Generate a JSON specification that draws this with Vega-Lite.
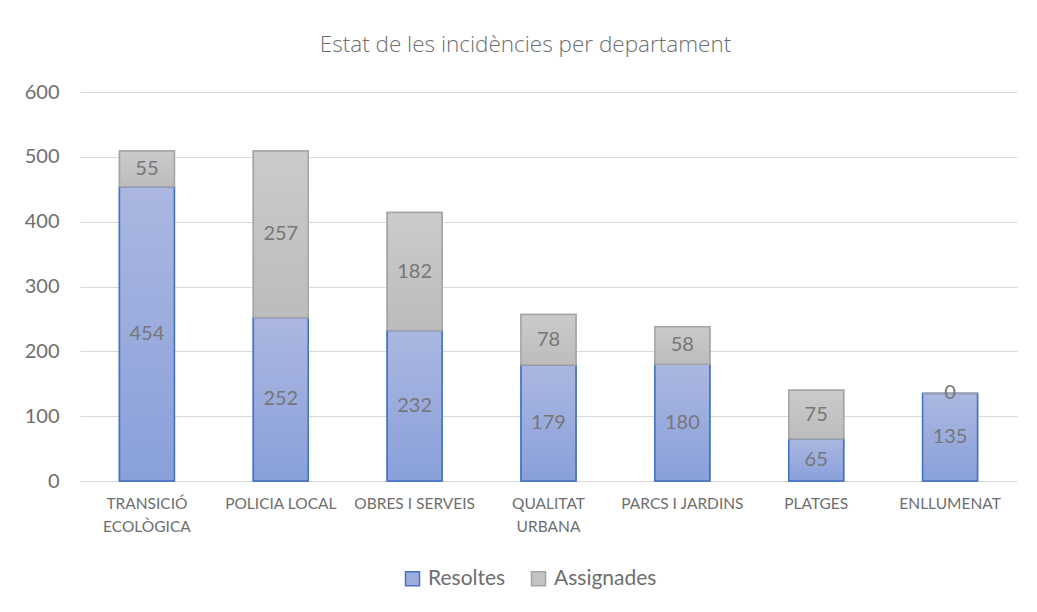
{
  "$schema": "https://vega.github.io/schema/vega-lite/v6.json",
  "width": 937,
  "height": 389,
  "autosize": {"type": "none"},
  "padding": {"left": 80, "top": 92, "right": 20, "bottom": 131},
  "background": "white",
  "config": {"view": {"stroke": null}, "font": "Lato"},
  "title": {
    "text": "Estat de les incidències per departament",
    "font": "Open Sans",
    "fontSize": 22.5,
    "fontWeight": 300,
    "color": "#6e6e6e",
    "anchor": "middle",
    "dx": -23,
    "offset": 26
  },
  "data": {
    "values": [
      {"dept": "TRANSICIÓ ECOLÒGICA", "status": "Resoltes", "value": 454, "order": 1},
      {"dept": "TRANSICIÓ ECOLÒGICA", "status": "Assignades", "value": 55, "order": 2},
      {"dept": "POLICIA LOCAL", "status": "Resoltes", "value": 252, "order": 1},
      {"dept": "POLICIA LOCAL", "status": "Assignades", "value": 257, "order": 2},
      {"dept": "OBRES I SERVEIS", "status": "Resoltes", "value": 232, "order": 1},
      {"dept": "OBRES I SERVEIS", "status": "Assignades", "value": 182, "order": 2},
      {"dept": "QUALITAT URBANA", "status": "Resoltes", "value": 179, "order": 1},
      {"dept": "QUALITAT URBANA", "status": "Assignades", "value": 78, "order": 2},
      {"dept": "PARCS I JARDINS", "status": "Resoltes", "value": 180, "order": 1},
      {"dept": "PARCS I JARDINS", "status": "Assignades", "value": 58, "order": 2},
      {"dept": "PLATGES", "status": "Resoltes", "value": 65, "order": 1},
      {"dept": "PLATGES", "status": "Assignades", "value": 75, "order": 2},
      {"dept": "ENLLUMENAT", "status": "Resoltes", "value": 135, "order": 1},
      {"dept": "ENLLUMENAT", "status": "Assignades", "value": 0, "order": 2}
    ]
  },
  "transform": [
    {"stack": "value", "groupby": ["dept"], "sort": [{"field": "order", "order": "ascending"}], "as": ["y0", "y1"]}
  ],
  "encoding": {
    "x": {
      "field": "dept",
      "type": "nominal",
      "sort": null,
      "scale": {"paddingInner": 0.59, "paddingOuter": 0.295},
      "axis": {
        "title": null,
        "labelAngle": 0,
        "labelFontSize": 15.5,
        "labelColor": "#6e6e6e",
        "labelPadding": 15,
        "labelLineHeight": 23,
        "labelFont": "Lato",
        "ticks": false,
        "domain": true,
        "domainColor": "#d9d9d9",
        "domainWidth": 1,
        "labelExpr": "indexof(['TRANSICIÓ ECOLÒGICA','QUALITAT URBANA'], datum.label) >= 0 ? split(datum.label, ' ') : datum.label"
      }
    }
  },
  "layer": [
    {
      "mark": {"type": "bar", "strokeWidth": 1.5},
      "encoding": {
        "y": {
          "field": "y0",
          "type": "quantitative",
          "scale": {"domain": [0, 600], "nice": false},
          "axis": {
            "title": null,
            "values": [0, 100, 200, 300, 400, 500, 600],
            "labelFontSize": 20,
            "labelColor": "#6e6e6e",
            "labelPadding": 21,
            "ticks": false,
            "domain": false,
            "gridColor": "#d9d9d9",
            "gridWidth": 1
          }
        },
        "y2": {"field": "y1"},
        "fill": {
          "field": "status",
          "type": "nominal",
          "scale": {"domain": ["Resoltes", "Assignades"], "range": ["#9cadde", "#c4c4c4"]},
          "legend": {
            "title": null,
            "orient": "none",
            "direction": "horizontal",
            "legendX": 322,
            "legendY": 476,
            "symbolType": "square",
            "symbolSize": 196,
            "symbolStrokeWidth": 1.5,
            "labelFontSize": 21,
            "labelColor": "#6e6e6e",
            "labelFont": "Lato",
            "columnPadding": 22,
            "labelOffset": 5
          }
        },
        "stroke": {
          "field": "status",
          "type": "nominal",
          "scale": {"domain": ["Resoltes", "Assignades"], "range": ["#4472c4", "#a5a5a5"]}
        }
      }
    },
    {
      "mark": {"type": "bar", "strokeWidth": 1.5},
      "encoding": {
        "y": {"field": "y0", "type": "quantitative"},
        "y2": {"field": "y1"},
        "fill": {
          "condition": {
            "test": "datum.status === 'Resoltes'",
            "value": {"gradient": "linear", "x1": 0, "y1": 0, "x2": 0, "y2": 1, "stops": [{"offset": 0, "color": "#abb7e1"}, {"offset": 1, "color": "#89a0da"}]}
          },
          "value": {"gradient": "linear", "x1": 0, "y1": 0, "x2": 0, "y2": 1, "stops": [{"offset": 0, "color": "#cbcbcb"}, {"offset": 1, "color": "#bcbcbc"}]}
        },
        "stroke": {"field": "status", "type": "nominal", "legend": null}
      }
    },
    {
      "transform": [
        {"fold": ["y0", "y1"], "as": ["k", "v"]},
        {"aggregate": [{"op": "mean", "field": "v", "as": "mid"}, {"op": "max", "field": "value", "as": "value"}], "groupby": ["dept", "status"]}
      ],
      "mark": {"type": "text", "fontSize": 20, "color": "#777777", "font": "Lato", "baseline": "middle", "align": "center"},
      "encoding": {
        "y": {"field": "mid", "type": "quantitative"},
        "text": {"field": "value", "type": "quantitative"}
      }
    }
  ]
}
